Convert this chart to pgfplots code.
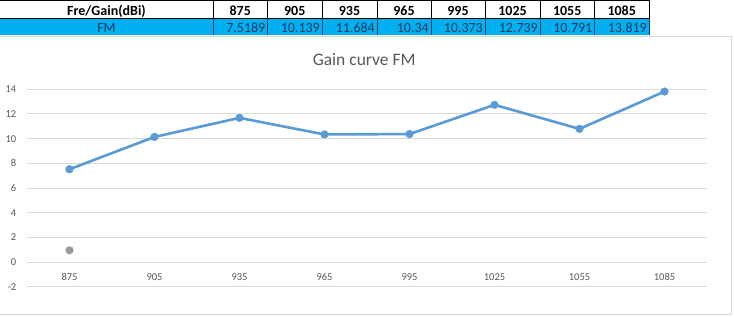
\documentclass[border=0pt]{standalone}
\usepackage{pgfplots}
\pgfplotsset{compat=1.18}
\usepackage{fontspec}
\setmainfont{Carlito}
\definecolor{linecol}{HTML}{5B9BD5}
\definecolor{gridc}{HTML}{D9D9D9}
\definecolor{txt}{HTML}{595959}
\definecolor{cellblue}{HTML}{00B0F0}
\definecolor{celltxt}{HTML}{1F3A60}
\begin{document}
\begin{tikzpicture}
\useasboundingbox (0,0) rectangle (734bp,-317bp);
\fill[white] (0,0) rectangle (734bp,-317bp);
% chart frame
\draw[gridc, line width=1bp] (-5bp,-36bp) -- (731.5bp,-36bp) -- (731.5bp,-314.5bp) -- (-5bp,-314.5bp);
% table
\fill[cellblue] (0,-18.3bp) rectangle (649bp,-34.5bp);
\draw[black, line width=1.2bp] (0,-0.5bp) -- (649bp,-0.5bp);
\draw[black, line width=1bp] (0,-18.3bp) -- (649bp,-18.3bp);
\foreach \x in {213,267.5,322,377,431,485,540,594.5,649}{
  \draw[black,line width=0.9bp] (\x bp,0) -- (\x bp,-18.3bp);
  \draw[celltxt,line width=0.8bp] (\x bp,-18.3bp) -- (\x bp,-34.5bp);
}
\begin{scope}[every node/.style={inner sep=0pt, anchor=base, font=\fontsize{14bp}{16bp}\selectfont\bfseries}]
\node at (106.5bp,-15.3bp) {Fre/Gain(dBi)};
\node at (240.2bp,-15.3bp) {875};
\node at (294.7bp,-15.3bp) {905};
\node at (349.5bp,-15.3bp) {935};
\node at (404bp,-15.3bp) {965};
\node at (458bp,-15.3bp) {995};
\node at (512.5bp,-15.3bp) {1025};
\node at (567.2bp,-15.3bp) {1055};
\node at (621.7bp,-15.3bp) {1085};
\end{scope}
\begin{scope}[every node/.style={inner sep=0pt, anchor=base east, text=celltxt, font=\fontsize{14bp}{16bp}\selectfont}]
\node[anchor=base] at (106.5bp,-32.3bp) {FM};
\node at (265.5bp,-32.3bp) {7.5189};
\node at (320bp,-32.3bp) {10.139};
\node at (375bp,-32.3bp) {11.684};
\node at (429bp,-32.3bp) {10.34};
\node at (483bp,-32.3bp) {10.373};
\node at (538bp,-32.3bp) {12.739};
\node at (592.5bp,-32.3bp) {10.791};
\node at (647bp,-32.3bp) {13.819};
\end{scope}
% title
\node[inner sep=0pt, anchor=base, text=txt, font=\fontsize{17.5bp}{20bp}\selectfont] at (364.2bp,-65bp) {Gain curve FM};
\begin{axis}[
  at={(27bp,-286.7bp)}, anchor=south west,
  scale only axis, width=680bp, height=197.4bp,
  xmin=-0.5, xmax=7.5, ymin=-2, ymax=14,
  xtick={0,...,7},
  xticklabels={875,905,935,965,995,1025,1055,1085},
  ytick={-2,0,2,4,6,8,10,12,14},
  yticklabels={-2,0,2,4,6,8,10,12,14},
  ymajorgrids, grid style={gridc, line width=1bp},
  axis line style={draw=none},
  major tick length=0pt,
  tick label style={font=\fontsize{10.5bp}{12bp}\selectfont, text=txt, inner sep=0pt},
  xticklabel style={anchor=center, yshift=10bp},
  yticklabel style={anchor=east, xshift=-10.5bp},
  clip=false,
]
\addplot[only marks, mark=*, mark size=4bp, color=black!40, mark options={fill=black!40, draw=black!25}] coordinates {(0,0.95)};
\addplot[linecol, line width=2.6bp, mark=*, mark size=3.8bp, mark options={fill=linecol, draw=linecol, line width=0.5bp}] coordinates {
(0,7.5189) (1,10.139) (2,11.684) (3,10.34) (4,10.373) (5,12.739) (6,10.791) (7,13.819)};
\end{axis}
\end{tikzpicture}
\end{document}
